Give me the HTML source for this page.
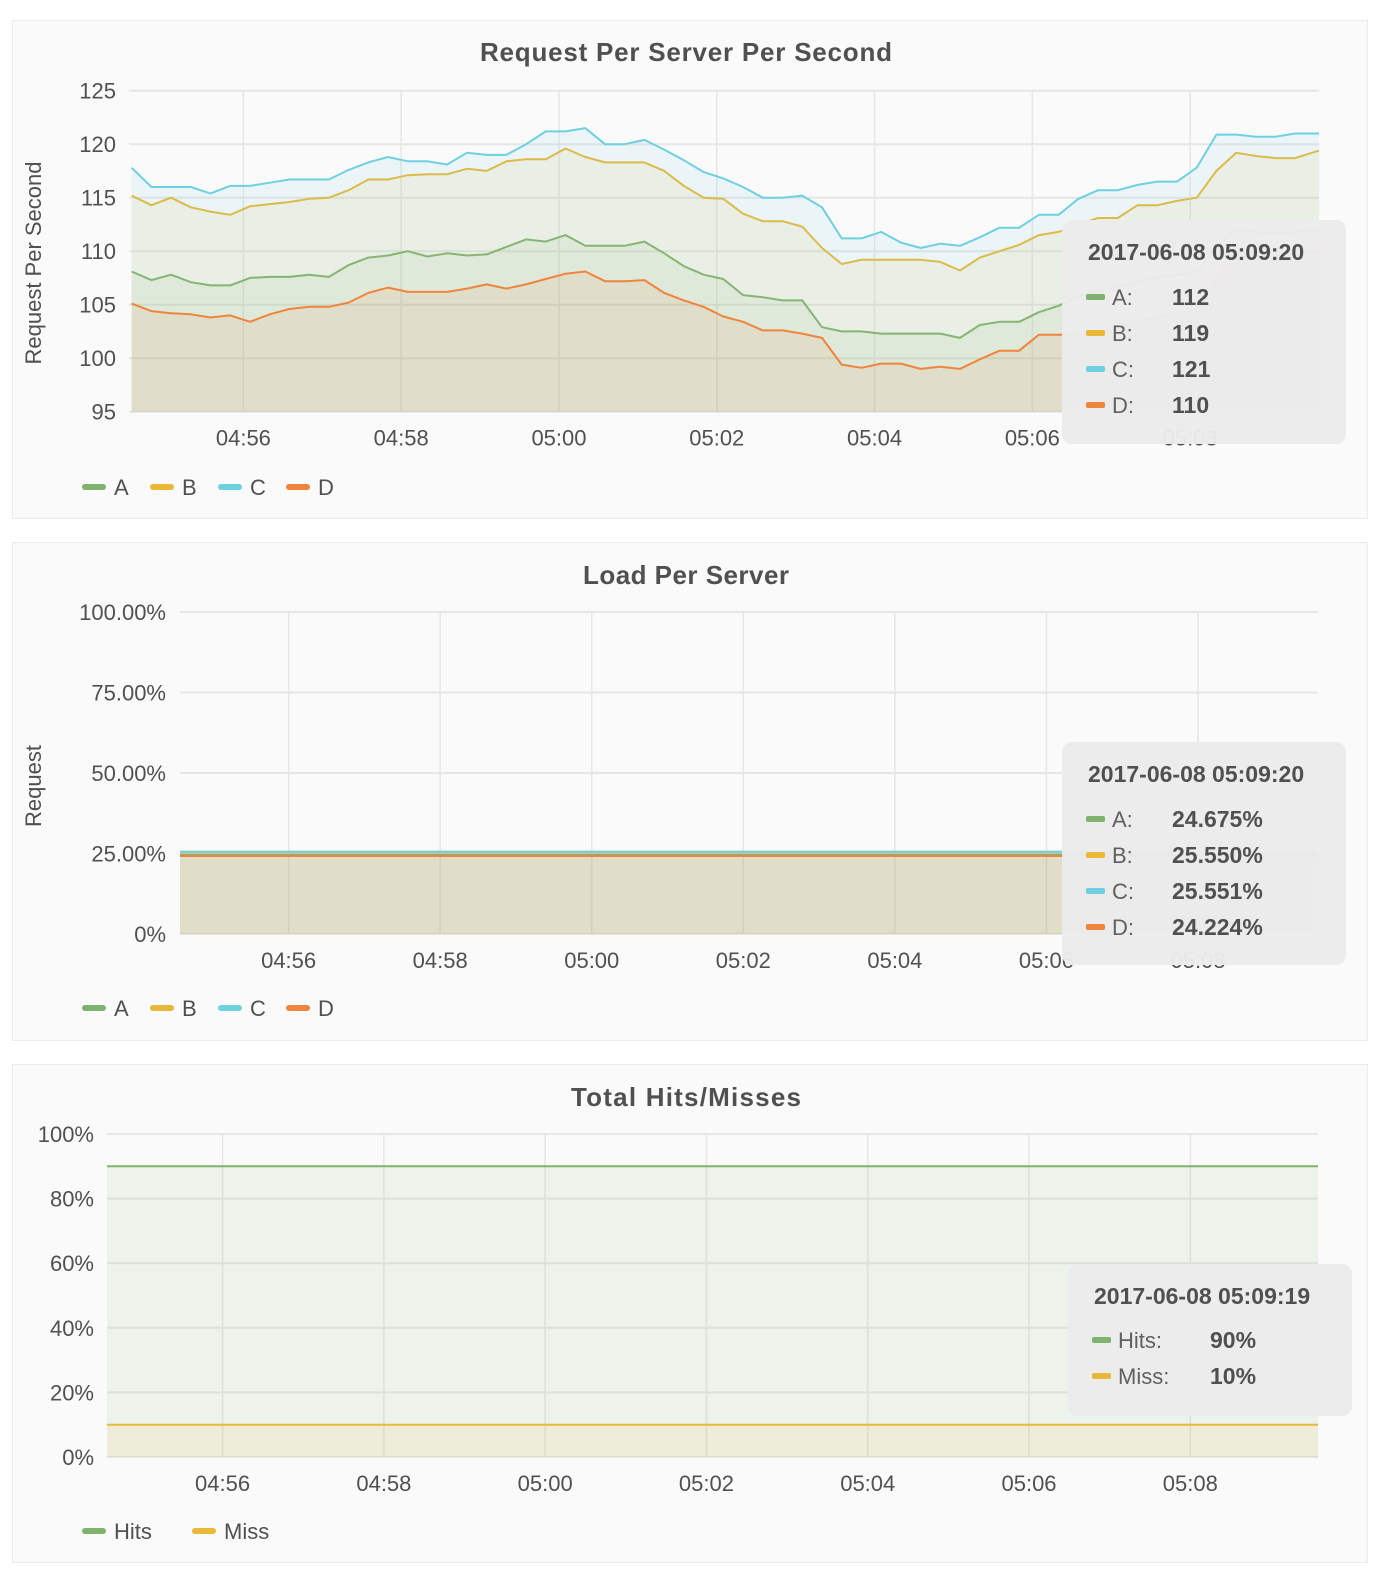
<!DOCTYPE html>
<html><head><meta charset="utf-8"><style>
html,body{margin:0;padding:0;background:#fff;}
svg{display:block;font-family:"Liberation Sans",sans-serif;}
</style></head><body>
<svg id="page" width="1378" height="1580" viewBox="0 0 1378 1580" xmlns="http://www.w3.org/2000/svg">
<rect x="12.5" y="20.5" width="1355" height="498" fill="#fafafa" stroke="#ececf0"/>
<rect x="12.5" y="542.5" width="1355" height="498" fill="#fafafa" stroke="#ececf0"/>
<rect x="12.5" y="1064.5" width="1355" height="498" fill="#fafafa" stroke="#ececf0"/>
<text x="686" y="61" text-anchor="middle" font-size="26" font-weight="bold" fill="#505050" textLength="412">Request Per Server Per Second</text>
<text x="686" y="584" text-anchor="middle" font-size="26" font-weight="bold" fill="#505050" textLength="206">Load Per Server</text>
<text x="686" y="1106" text-anchor="middle" font-size="26" font-weight="bold" fill="#505050" textLength="230">Total Hits/Misses</text>
<text transform="translate(41,263) rotate(-90)" text-anchor="middle" font-size="22" fill="#505050">Request Per Second</text>
<text transform="translate(41,786) rotate(-90)" text-anchor="middle" font-size="22" fill="#505050">Request</text>
<g id="c1"></g><g id="c2"></g><g id="c3"></g>
</svg>
<script>
// ---- Chart 1 data (15 s samples starting 04:54:35) ----
const reqStart = "04:54:35";
const reqStepSec = 15;
const reqA = [108.1,107.3,107.8,107.1,106.8,106.8,107.5,107.6,107.6,107.8,107.6,108.7,109.4,109.6,110.0,109.5,109.8,109.6,109.7,110.4,111.1,110.9,111.5,110.5,110.5,110.5,110.9,109.8,108.6,107.8,107.4,105.9,105.7,105.4,105.4,102.9,102.5,102.5,102.3,102.3,102.3,102.3,101.9,103.1,103.4,103.4,104.3,104.9,105.8,106.3,106.8,107.0,107.6,107.8,108.1,110.5,112.0,111.8,111.7,111.8,112.0];
const reqB = [115.2,114.3,115.0,114.1,113.7,113.4,114.2,114.4,114.6,114.9,115.0,115.7,116.7,116.7,117.1,117.2,117.2,117.7,117.5,118.4,118.6,118.6,119.6,118.8,118.3,118.3,118.3,117.5,116.1,115.0,114.9,113.5,112.8,112.8,112.3,110.3,108.8,109.2,109.2,109.2,109.2,109.0,108.2,109.4,110.0,110.6,111.5,111.8,112.5,113.1,113.1,114.3,114.3,114.7,115.0,117.5,119.2,118.9,118.7,118.7,119.4];
const reqC = [117.8,116.0,116.0,116.0,115.4,116.1,116.1,116.4,116.7,116.7,116.7,117.6,118.3,118.8,118.4,118.4,118.1,119.2,119.0,119.0,120.0,121.2,121.2,121.5,120.0,120.0,120.4,119.5,118.5,117.4,116.8,116.0,115.0,115.0,115.2,114.1,111.2,111.2,111.8,110.8,110.3,110.7,110.5,111.3,112.2,112.2,113.4,113.4,114.9,115.7,115.7,116.2,116.5,116.5,117.8,120.9,120.9,120.7,120.7,121.0,121.0];
const reqD = [105.1,104.4,104.2,104.1,103.8,104.0,103.4,104.1,104.6,104.8,104.8,105.2,106.1,106.6,106.2,106.2,106.2,106.5,106.9,106.5,106.9,107.4,107.9,108.1,107.2,107.2,107.3,106.1,105.4,104.8,103.9,103.4,102.6,102.6,102.3,101.9,99.4,99.1,99.5,99.5,99.0,99.2,99.0,99.9,100.7,100.7,102.2,102.2,102.2,102.5,102.8,103.5,103.8,104.2,104.5,107.5,109.5,109.5,109.6,109.7,110.0];
const reqYTicks = [95,100,105,110,115,120,125];
const timeTicks = ["04:56","04:58","05:00","05:02","05:04","05:06","05:08"];
// ---- Chart 2 data ----
const loadTimes = ["04:54:34","05:09:35"];
const loadA = [24.675,24.675];
const loadB = [25.55,25.55];
const loadC = [25.551,25.551];
const loadD = [24.224,24.224];
const loadYTicks = [0,25,50,75,100];
const loadYLabels = ["0%","25.00%","50.00%","75.00%","100.00%"];
// ---- Chart 3 data ----
const hmTimes = ["04:54:34","05:09:35"];
const hits = [90,90];
const miss = [10,10];
const hmYTicks = [0,20,40,60,80,100];
const hmYLabels = ["0%","20%","40%","60%","80%","100%"];

const NS = "http://www.w3.org/2000/svg";
const COL = {A:"#7eb26d",B:"#eab839",C:"#6ed0e0",D:"#ef843c"};
function sec(t){const p=t.split(":").map(Number);return p[0]*3600+p[1]*60+(p[2]||0);}
function mk(parent,tag,attrs){const e=document.createElementNS(NS,tag);for(const k in attrs)e.setAttribute(k,attrs[k]);parent.appendChild(e);return e;}

function drawChart(g,cfg){
  const xs=t=>cfg.x0+(t-sec(cfg.t0))/(sec(cfg.t1)-sec(cfg.t0))*(cfg.x1-cfg.x0);
  const ys=v=>cfg.y1-(v-cfg.vmin)/(cfg.vmax-cfg.vmin)*(cfg.y1-cfg.y0);
  cfg.yTicks.forEach((v,i)=>{
    const l=mk(g,"line",{x1:cfg.x0,x2:cfg.x1,y1:ys(v),y2:ys(v),stroke:"#e6e6e6","stroke-width":2});
    
    
    const t=mk(g,"text",{x:cfg.labelX,y:ys(v)+8,"text-anchor":"end","font-size":22,fill:"#505050"});
    t.textContent=cfg.yLabels?cfg.yLabels[i]:String(v);
    
    
  });
  timeTicks.forEach(tt=>{
    const x=xs(sec(tt));
    const l=mk(g,"line",{x1:x,x2:x,y1:cfg.y0,y2:cfg.y1,stroke:"#e6e6e6","stroke-width":1.5});
    
    
    const t=mk(g,"text",{x:x,y:cfg.y1+34,"text-anchor":"middle","font-size":22,fill:"#505050"});
    t.textContent=tt;
    
    
  });
  cfg.series.forEach(s=>{
    const pts=s.vals.map((v,i)=>[Math.min(cfg.x1,xs(s.times[i])),ys(v)]);
    pts[pts.length-1][0]=cfg.x1;
    const line=pts.map(p=>p[0].toFixed(1)+","+p[1].toFixed(1)).join(" L");
    const area=mk(g,"path",{d:"M"+pts[0][0]+","+cfg.y1+" L"+line+" L"+cfg.x1+","+cfg.y1+" Z",fill:s.color,"fill-opacity":0.1,stroke:"none"});
    
    
    const p=mk(g,"path",{d:"M"+line,fill:"none",stroke:s.color,"stroke-width":2,"stroke-linejoin":"round"});
    
    
  });
  // legend
  let lx=82;
  cfg.series.forEach(s=>{
    const r=mk(g,"rect",{x:lx,y:cfg.legendY-3,width:24,height:6,rx:3,fill:s.color});
    
    
    const t=mk(g,"text",{x:lx+32,y:cfg.legendY+8,"font-size":22,fill:"#505050"});
    t.textContent=s.name;
    
    
    lx+=32+s.name.length*14+22;
  });
  // tooltip
  const tp=cfg.tip;
  const box=mk(g,"rect",{x:tp.x,y:tp.y,width:tp.w,height:tp.h,rx:10,fill:"#ebebeb","fill-opacity":0.97});
  
  
  const tt=mk(g,"text",{x:tp.x+26,y:tp.y+40,"font-size":23,"font-weight":"bold",fill:"#505050"});
  tt.textContent=tp.title;
  
  
  tp.rows.forEach((row,i)=>{
    const cy=tp.y+tp.firstRow+i*36;
    const sw=mk(g,"rect",{x:tp.x+24,y:cy-3,width:19,height:6,rx:2,fill:row[2]});
    
    
    const lb=mk(g,"text",{x:tp.x+50,y:cy+8,"font-size":22,fill:"#606060"});
    lb.textContent=row[0];
    
    
    const vl=mk(g,"text",{x:tp.x+tp.valX,y:cy+8,"font-size":23,"font-weight":"bold",fill:"#505050"});
    vl.textContent=row[1];
    
    
  });
}
const reqTimes=reqA.map((_,i)=>sec(reqStart)+i*reqStepSec);
drawChart(document.getElementById("c1"),{x0:129,x1:1319,y0:90.7,y1:411.7,t0:"04:54:33",t1:"05:09:38",vmin:95,vmax:125,
  yTicks:reqYTicks,labelX:116,legendY:487,
  series:[{name:"A",color:COL.A,vals:reqA,times:reqTimes},{name:"B",color:COL.B,vals:reqB,times:reqTimes},{name:"C",color:COL.C,vals:reqC,times:reqTimes},{name:"D",color:COL.D,vals:reqD,times:reqTimes}],
  tip:{x:1062,y:220,w:284,h:224,title:"2017-06-08 05:09:20",firstRow:77,valX:110,rows:[["A:","112",COL.A],["B:","119",COL.B],["C:","121",COL.C],["D:","110",COL.D]]}});
const lt=loadTimes.map(sec);
drawChart(document.getElementById("c2"),{x0:180,x1:1318,y0:612,y1:934,t0:"04:54:34",t1:"05:09:35",vmin:0,vmax:100,
  yTicks:loadYTicks,yLabels:loadYLabels,labelX:166,legendY:1008,
  series:[{name:"A",color:COL.A,vals:loadA,times:lt},{name:"B",color:COL.B,vals:loadB,times:lt},{name:"C",color:COL.C,vals:loadC,times:lt},{name:"D",color:COL.D,vals:loadD,times:lt}],
  tip:{x:1062,y:742,w:284,h:223,title:"2017-06-08 05:09:20",firstRow:77,valX:110,rows:[["A:","24.675%",COL.A],["B:","25.550%",COL.B],["C:","25.551%",COL.C],["D:","24.224%",COL.D]]}});
const ht=hmTimes.map(sec);
drawChart(document.getElementById("c3"),{x0:107,x1:1318,y0:1134,y1:1457,t0:"04:54:34",t1:"05:09:35",vmin:0,vmax:100,
  yTicks:hmYTicks,yLabels:hmYLabels,labelX:94,legendY:1531,
  series:[{name:"Hits",color:COL.A,vals:hits,times:ht},{name:"Miss",color:COL.B,vals:miss,times:ht}],
  tip:{x:1068,y:1264,w:284,h:152,title:"2017-06-08 05:09:19",firstRow:76,valX:142,rows:[["Hits:","90%",COL.A],["Miss:","10%",COL.B]]}});
</script>
</body></html>
